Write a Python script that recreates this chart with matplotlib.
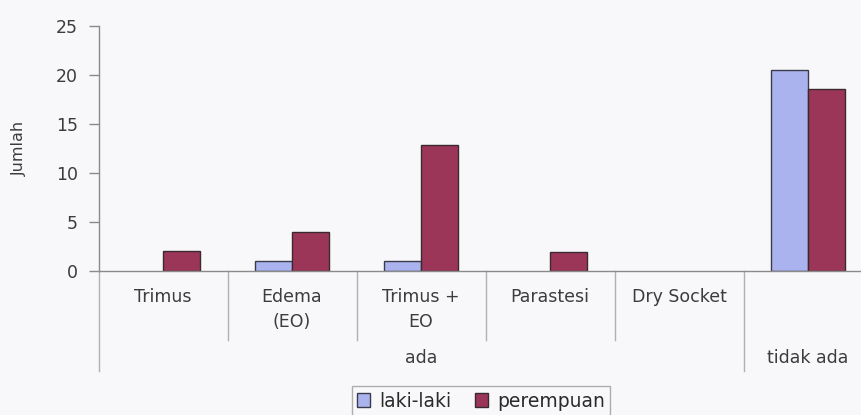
import matplotlib
matplotlib.use('Agg')
import matplotlib.pyplot as plt
import numpy as np
from matplotlib.patches import Patch

# data
categories = ['Trimus', 'Edema\n(EO)', 'Trimus +\nEO', 'Parastesi', 'Dry Socket', '']
groups = ['ada', 'tidak ada']
group_spans = [(0, 4), (5, 5)]
laki_laki = [0, 1, 1, 0, 0, 20.5]
perempuan = [2, 4, 12.8, 1.9, 0, 18.6]
yticks = [0, 5, 10, 15, 20, 25]

text_color = '#3c3c3c'
line_color = '#8a8a8a'
c_laki = '#aab3ee'
c_per = '#9c3658'

plt.rcParams['font.family'] = ['DejaVu Sans']

W, H = 861, 415
fig = plt.figure(figsize=(W / 100, H / 100), dpi=100)
fig.patch.set_facecolor('#f8f8fa')

# axes spans past the right edge, like the cropped scan
ax = fig.add_axes([98.5 / W, (H - 270.7) / H, 774 / W, 244.7 / H])
ax.set_facecolor('none')

x = np.arange(len(categories))
bw = 0.2857
bl = ax.bar(x - bw / 2, laki_laki, bw, color=c_laki, edgecolor='#3a3a4a', linewidth=1)
bp = ax.bar(x + bw / 2, perempuan, bw, color=c_per, edgecolor='#3a2a30', linewidth=1)
# empty values show nothing
for bars, vals in [(bl, laki_laki), (bp, perempuan)]:
    for r, v in zip(bars, vals):
        if v == 0:
            r.set_visible(False)

ax.set_xlim(-0.5, len(categories) - 0.5)
ax.set_ylim(0, 25)
ax.set_yticks(yticks)
ax.set_xticks([])
ax.tick_params(axis='y', length=7, width=1, color=line_color, pad=8,
               labelsize=12.5, labelcolor=text_color)
for s in ['top', 'right']:
    ax.spines[s].set_visible(False)
for s in ['left', 'bottom']:
    ax.spines[s].set_color(line_color)
    ax.spines[s].set_linewidth(1)

tr = ax.get_xaxis_transform()
px = 1 / 244.7  # one pixel in axes fraction

# category labels
for i, lab in enumerate(categories):
    ax.text(i, -17 * px, lab, transform=tr, ha='center', va='top',
            fontsize=12.5, color=text_color, linespacing=1.55)

# separators below the axis
for b in [0.5, 1.5, 2.5, 3.5]:
    ax.plot([b, b], [0, -69 * px], transform=tr, color='#b0b0b0',
            linewidth=1, clip_on=False)
for b in [-0.5, 4.5]:
    ax.plot([b, b], [0, -100 * px], transform=tr, color='#b0b0b0',
            linewidth=1, clip_on=False)

# group labels
for g, (a, b) in zip(groups, group_spans):
    ax.text((a + b) / 2, -87 * px, g, transform=tr, ha='center', va='center',
            fontsize=12.5, color=text_color)

fig.text(19 / W, 1 - 148 / H, 'Jumlah', rotation=90, ha='center', va='center',
         fontsize=11.5, color=text_color)

handles = [Patch(facecolor=c_laki, edgecolor='#3a3a4a', label='laki-laki'),
           Patch(facecolor=c_per, edgecolor='#3a2a30', label='perempuan')]
leg = fig.legend(handles=handles, loc='center', bbox_to_anchor=(481 / W, 1 - 401 / H),
                 ncol=2, fontsize=13.5, frameon=True, fancybox=False,
                 handlelength=0.7, handleheight=0.7, handletextpad=0.45,
                 columnspacing=1.3, borderpad=0.3, borderaxespad=0)
leg.get_frame().set_edgecolor('#9a9a9a')
leg.get_frame().set_facecolor('#f8f8fa')
leg.get_frame().set_linewidth(1)
for t in leg.get_texts():
    t.set_color('#2a2a2a')

fig.savefig('out.png', dpi=100, facecolor=fig.get_facecolor())
